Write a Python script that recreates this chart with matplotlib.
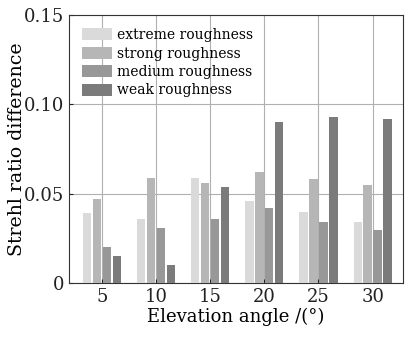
import numpy as np
import matplotlib.pyplot as plt

angles = [5, 10, 15, 20, 25, 30]
labels = ['extreme roughness', 'strong roughness', 'medium roughness', 'weak roughness']
extreme = [0.039, 0.036, 0.059, 0.046, 0.040, 0.034]
strong = [0.047, 0.059, 0.056, 0.062, 0.058, 0.055]
medium = [0.020, 0.031, 0.036, 0.042, 0.034, 0.030]
weak = [0.015, 0.010, 0.054, 0.090, 0.093, 0.092]
colors = ['#dadada', '#b6b6b6', '#989898', '#7b7b7b']

plt.rcParams['font.family'] = 'DejaVu Serif'
fig = plt.figure(figsize=(4.05, 3.4), dpi=100)
ax = fig.add_axes([0.170, 0.167, 0.825, 0.789])

x = np.array(angles, dtype=float)
pitch = 0.92
width = 0.77
offsets = [-1.5, -0.5, 0.5, 1.5]
for series, lab, c, off in zip([extreme, strong, medium, weak], labels, colors, offsets):
    ax.bar(x + off * pitch, series, width, color=c, label=lab, zorder=3)

ax.set_xlim(1.95, 32.8)
ax.set_ylim(0, 0.15)
ax.set_xticks(angles)
ax.set_yticks([0, 0.05, 0.10, 0.15])
ax.set_yticklabels(['0', '0.05', '0.10', '0.15'])
ax.grid(True, color='#b0b0b0', linewidth=0.8, zorder=0)
ax.set_axisbelow(True)
ax.tick_params(direction='in', length=3, labelsize=13, colors='#222222')
ax.set_xlabel('Elevation angle /(°)', fontsize=13, labelpad=1)
ax.set_ylabel('Strehl ratio difference', fontsize=13.6, labelpad=-2)
for s in ax.spines.values():
    s.set_color('#333333')

ax.legend(loc='upper left', frameon=False, fontsize=10, handlelength=2.16,
          handleheight=0.94, labelspacing=0.32, handletextpad=0.36,
          borderaxespad=0.55)

fig.savefig('out.png')
